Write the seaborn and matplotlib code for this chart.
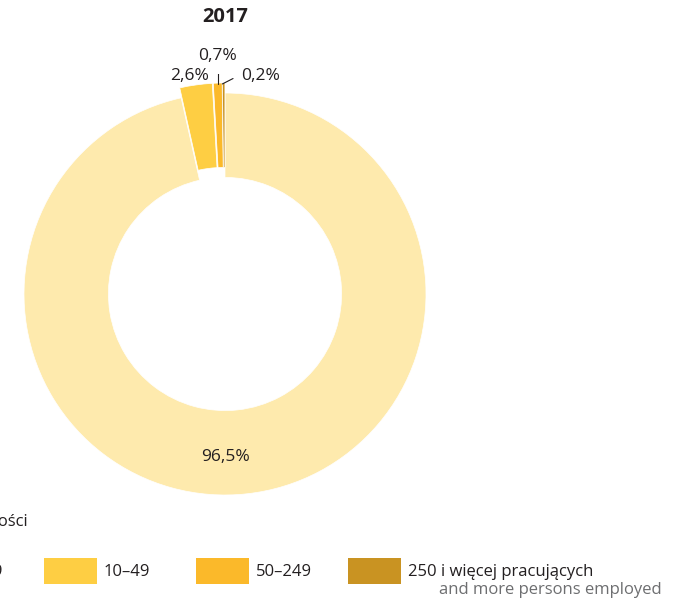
import matplotlib
matplotlib.use("Agg")
import matplotlib.pyplot as plt
import seaborn as sns
from matplotlib.patches import Rectangle

sns.set_theme(style="white")
plt.rcParams['font.family'] = ['Open Sans', 'DejaVu Sans']

# ---- data ----
year = "2017"
categories = ["0–9", "10–49", "50–249", "250 i więcej pracujących"]
sublabel_en = "and more persons employed"
values = [96.5, 2.6, 0.7, 0.2]
value_labels = ["96,5%", "2,6%", "0,7%", "0,2%"]
colors = ["#FEEAAD", "#FECE43", "#FBB92A", "#C99322"]
legend_title = "Pracujący według klas wielkości"

W, H = 678, 602
fig = plt.figure(figsize=(W / 100, H / 100), dpi=100)
fig.patch.set_facecolor("white")

# donut centre (225, 294) px, outer radius 201 px
cx, cy, R = 225, 294, 201
half = 220
ax = fig.add_axes([(cx - half) / W, (H - cy - half) / H, 2 * half / W, 2 * half / H])
lim = half / R
ax.set_aspect("equal")
ax.axis("off")

wedges, _ = ax.pie(values, colors=colors, startangle=90, counterclock=False,
                   explode=[0, 0.05, 0.05, 0.05], radius=1.0,
                   wedgeprops=dict(width=0.42, edgecolor="white", linewidth=0.5),
                   frame=False)
ax.set_xlim(-lim, lim)
ax.set_ylim(-lim, lim)

txt = "#231F20"
fs = 12.5
ax.text(0, -0.81, value_labels[0], ha="center", va="center", fontsize=fs, color=txt)
ax.text(-0.174, 1.085, value_labels[1], ha="center", va="center", fontsize=fs, color=txt)
ax.text(-0.035, 1.185, value_labels[2], ha="center", va="center", fontsize=fs, color=txt)
ax.text(0.176, 1.085, value_labels[3], ha="center", va="center", fontsize=fs, color=txt)
ax.plot([-0.035, -0.035], [1.045, 1.13], color=txt, lw=0.8)
ax.plot([-0.013, 0.04], [1.045, 1.072], color=txt, lw=0.8)

# title
fig.text(cx / W, 1 - 17 / H, year, ha="center", va="center", fontsize=14.5,
         fontweight="bold", color=txt)

# legend title (cut off at the left, as in the reference)
fig.text(28 / W, 1 - 522 / H, legend_title, ha="right", va="center", fontsize=12,
         color=txt)

# legend entries
lfs = 12
patch_x = [-109, 44, 196, 348]
for i, (lab, col) in enumerate(zip(categories, colors)):
    x0 = patch_x[i]
    fig.patches.append(Rectangle((x0 / W, 1 - 584 / H), 53 / W, 26 / H,
                                 transform=fig.transFigure, facecolor=col,
                                 edgecolor="none"))
    if i == 0:
        fig.text(3 / W, 1 - 572 / H, lab, ha="right", va="center",
                 fontsize=lfs, color=txt)
    else:
        fig.text((x0 + 60) / W, 1 - 572 / H, lab, ha="left", va="center",
                 fontsize=lfs, color=txt)
fig.text(662 / W, 1 - 590 / H, sublabel_en, ha="right", va="center",
         fontsize=lfs, color="#6D6E70")

fig.savefig("out.png", dpi=100, facecolor="white")
